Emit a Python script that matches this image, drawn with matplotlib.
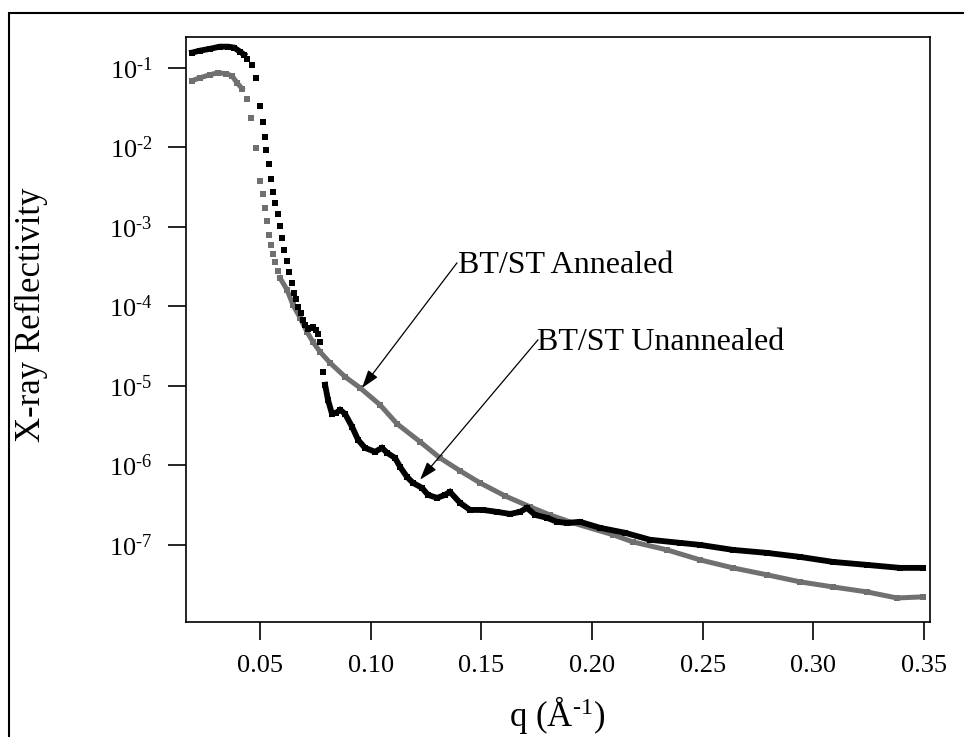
import numpy as np
import matplotlib
matplotlib.use('Agg')
import matplotlib.pyplot as plt
from matplotlib import ticker
from matplotlib.patches import Rectangle

plt.rcParams['font.family'] = ['Liberation Serif', 'DejaVu Serif']
plt.rcParams['mathtext.fontset'] = 'custom'
plt.rcParams['mathtext.rm'] = 'Liberation Serif'
plt.rcParams['mathtext.it'] = 'Liberation Serif:italic'

# BT/ST Unannealed (black)
q_unannealed = [
    0.0193, 0.0229, 0.0274, 0.0319, 0.0355, 0.0383, 0.0410, 0.0428,
    0.0441, 0.0464, 0.0482, 0.0500, 0.0514, 0.0521, 0.0527, 0.0541,
    0.0550, 0.0559, 0.0568, 0.0581, 0.0590, 0.0599, 0.0608, 0.0622,
    0.0631, 0.0645, 0.0654, 0.0663, 0.0672, 0.0685, 0.0694, 0.0703,
    0.0717, 0.0730, 0.0740, 0.0753, 0.0762, 0.0771, 0.0785,
    0.0794, 0.0807, 0.0825, 0.0843, 0.0862, 0.0884, 0.0916, 0.0943,
    0.0974, 0.1020, 0.1051, 0.1074, 0.1110, 0.1133, 0.1164, 0.1191,
    0.1232, 0.1259, 0.1300, 0.1336, 0.1358, 0.1404, 0.1449, 0.1508,
    0.1571, 0.1630, 0.1675, 0.1706, 0.1743, 0.1797, 0.1842, 0.1887,
    0.1946, 0.2036, 0.2149, 0.2262, 0.2398, 0.2488, 0.2637, 0.2791,
    0.2940, 0.3089, 0.3243, 0.3392, 0.3496,
]
r_unannealed = [
    0.155, 0.164, 0.173, 0.184, 0.184, 0.179, 0.159, 0.146,
    0.130, 0.109, 0.0748, 0.0333, 0.0209, 0.01355, 0.00931, 0.00620,
    0.00402, 0.00275, 0.00200, 0.00146, 0.00103, 7.28e-4, 5.14e-4, 3.74e-4,
    2.72e-4, 1.98e-4, 1.48e-4, 1.24e-4, 9.86e-5, 8.28e-5, 6.76e-5, 5.85e-5,
    5.21e-5, 5.37e-5, 5.52e-5, 5.06e-5, 4.51e-5, 3.57e-5, 1.50e-5,
    1.03e-5, 6.67e-6, 4.45e-6, 4.57e-6, 4.99e-6, 4.45e-6, 3.05e-6, 2.09e-6,
    1.66e-6, 1.48e-6, 1.66e-6, 1.44e-6, 1.24e-6, 9.57e-7, 7.16e-7, 6.02e-7,
    5.21e-7, 4.25e-7, 3.90e-7, 4.25e-7, 4.64e-7, 3.37e-7, 2.75e-7, 2.75e-7,
    2.60e-7, 2.45e-7, 2.60e-7, 2.92e-7, 2.38e-7, 2.19e-7, 1.95e-7, 1.89e-7,
    1.95e-7, 1.64e-7, 1.42e-7, 1.16e-7, 1.06e-7, 1.00e-7, 8.65e-8, 7.93e-8,
    7.06e-8, 6.11e-8, 5.60e-8, 5.14e-8, 5.14e-8,
]

# BT/ST Annealed (gray)
q_annealed = [
    0.0193, 0.0229, 0.0274, 0.0310, 0.0346, 0.0373, 0.0396, 0.0419,
    0.0441, 0.0459, 0.0482, 0.0500, 0.0514, 0.0523, 0.0532, 0.0541,
    0.0550, 0.0559, 0.0568, 0.0581, 0.0590,
    0.0622, 0.0649, 0.0681, 0.0712, 0.0739, 0.0771, 0.0816, 0.0884,
    0.0952, 0.1042, 0.1119, 0.1223, 0.1313, 0.1404, 0.1494, 0.1607,
    0.1720, 0.1810, 0.1914, 0.2095, 0.2185, 0.2339, 0.2488, 0.2637,
    0.2791, 0.2940, 0.3089, 0.3243, 0.3378, 0.3496,
]
r_annealed = [
    0.0686, 0.0748, 0.0816, 0.0865, 0.0841, 0.0793, 0.0647, 0.0544,
    0.0408, 0.0235, 0.00986, 0.00379, 0.00260, 0.00173, 0.00119, 7.92e-4,
    5.94e-4, 4.57e-4, 3.63e-4, 2.80e-4, 2.28e-4,
    1.61e-4, 1.04e-4, 7.16e-5, 4.78e-5, 3.57e-5, 2.68e-5, 1.95e-5, 1.30e-5,
    9.44e-6, 5.77e-6, 3.33e-6, 1.98e-6, 1.24e-6, 8.53e-7, 6.02e-7, 4.13e-7,
    3.01e-7, 2.38e-7, 1.89e-7, 1.34e-7, 1.09e-7, 8.65e-8, 6.48e-8, 5.14e-8,
    4.20e-8, 3.43e-8, 2.96e-8, 2.56e-8, 2.15e-8, 2.22e-8,
]

x_ticks = [0.05, 0.10, 0.15, 0.20, 0.25, 0.30, 0.35]
y_ticks = [1e-1, 1e-2, 1e-3, 1e-4, 1e-5, 1e-6, 1e-7]

# label text, text anchor, arrow tail, arrow head (data coords)
labels = [
    ('BT/ST Annealed', (0.1395, 2.64e-4), (0.1390, 3.52e-4), (0.0961, 9.4e-6)),
    ('BT/ST Unannealed', (0.1752, 2.84e-5), (0.1756, 3.79e-5), (0.1223, 6.6e-7)),
]


def draw_series(ax, q, r, color, gap, lw):
    """
    Square markers everywhere, joined by a thick line where the points
    overlap (outside the steep critical-edge drop given by gap)
    """
    q = np.asarray(q)
    r = np.asarray(r)
    ax.plot(q, r, 's', color=color, ms=4.0, mew=0, zorder=3)
    for mask in (q <= gap[0], q >= gap[1]):
        ax.plot(q[mask], r[mask], '-', color=color, lw=lw,
                solid_joinstyle='miter', zorder=3)


def decade_label(v, pos):
    # short hyphen in the exponent, like the original
    return r'$\mathregular{10^{‐%d}}$' % abs(round(np.log10(v)))


fig = plt.figure(figsize=(9.64, 7.37), dpi=100)
ax = fig.add_axes([0.193, 0.156, 0.7717, 0.7942])

draw_series(ax, q_annealed, r_annealed, '#707070', (0.0420, 0.0589), 3.6)
draw_series(ax, q_unannealed, r_unannealed, '#000000', (0.0429, 0.0793), 4.2)

ax.set_yscale('log')
ax.set_xlim(0.01657, 0.35271)
ax.set_ylim(10 ** -7.97, 10 ** -0.61)

ax.set_xticks(x_ticks)
ax.xaxis.set_major_formatter(ticker.FormatStrFormatter('%.2f'))
ax.set_yticks(y_ticks)
ax.yaxis.set_major_formatter(ticker.FuncFormatter(decade_label))
ax.yaxis.set_minor_locator(ticker.NullLocator())
ax.tick_params(which='major', direction='out', length=13, width=1.2,
               labelsize=19, pad=11)

for side in ax.spines.values():
    side.set_linewidth(1.2)

for text, txt_pos, tail, head in labels:
    ax.annotate('', xy=head, xytext=tail,
                arrowprops=dict(arrowstyle='-|>,head_length=0.55,head_width=0.18',
                                color='black', lw=0.9, shrinkA=0, shrinkB=0,
                                mutation_scale=20))
    ax.text(txt_pos[0], txt_pos[1], text, fontsize=23, ha='left', va='baseline')

fig.text(31 / 964, 1 - 315 / 737, 'X-ray Reflectivity', fontsize=25,
         rotation=90, ha='center', va='center')
fig.text(557 / 964, 1 - 726 / 737, r'q (Å$^{\mathregular{‐1}}$)', fontsize=25,
         ha='center', va='baseline')

# outer frame, running off the right and bottom edges
fig.patches.append(Rectangle((9 / 964, -0.1), 1.2, 1 - 13 / 737 + 0.1,
                             transform=fig.transFigure, fill=False,
                             lw=1.5, edgecolor='black'))

fig.savefig('out.png', dpi=100)
